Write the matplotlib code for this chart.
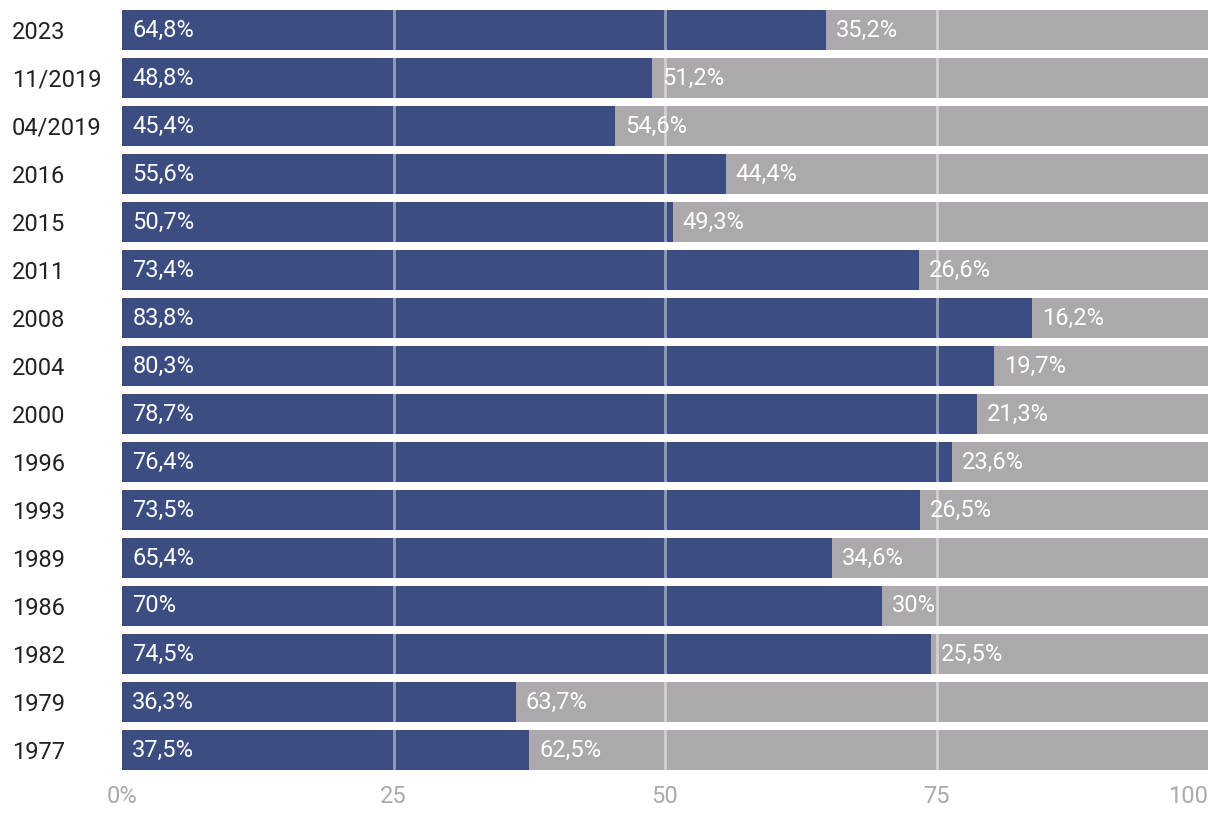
import matplotlib
matplotlib.use("Agg")
import matplotlib.pyplot as plt

plt.rcParams['font.family'] = ['Roboto', 'DejaVu Sans']

categories = ["2023", "11/2019", "04/2019", "2016", "2015", "2011", "2008", "2004",
              "2000", "1996", "1993", "1989", "1986", "1982", "1979", "1977"]
blue_vals = [64.8, 48.8, 45.4, 55.6, 50.7, 73.4, 83.8, 80.3, 78.7, 76.4, 73.5, 65.4, 70, 74.5, 36.3, 37.5]
gray_vals = [35.2, 51.2, 54.6, 44.4, 49.3, 26.6, 16.2, 19.7, 21.3, 23.6, 26.5, 34.6, 30, 25.5, 63.7, 62.5]
blue_labels = ["64,8%", "48,8%", "45,4%", "55,6%", "50,7%", "73,4%", "83,8%", "80,3%",
               "78,7%", "76,4%", "73,5%", "65,4%", "70%", "74,5%", "36,3%", "37,5%"]
gray_labels = ["35,2%", "51,2%", "54,6%", "44,4%", "49,3%", "26,6%", "16,2%", "19,7%",
               "21,3%", "23,6%", "26,5%", "34,6%", "30%", "25,5%", "63,7%", "62,5%"]
xticks = [0, 25, 50, 75, 100]
xtick_labels = ["0%", "25", "50", "75", "100"]

BLUE = "#3c4d82"
GRAY = "#aca8ad"
FS = 17

fig = plt.figure(figsize=(12.2, 8.16), dpi=100)
ax = fig.add_axes([122/1220, 1 - 774/816, (1208 - 122)/1220, 768/816])

y = list(range(len(categories)))
ax.barh(y, blue_vals, height=40/48, color=BLUE, zorder=1)
ax.barh(y, gray_vals, left=blue_vals, height=40/48, color=GRAY, zorder=1)

for xv in [25, 50, 75]:
    ax.axvline(xv, color="white", alpha=0.45, lw=2, zorder=2)

for i in y:
    ax.text(0.95, i, blue_labels[i], color="white", fontsize=FS, va="center", ha="left", zorder=3)
    ax.text(blue_vals[i] + 0.9, i, gray_labels[i], color="white", fontsize=FS, va="center", ha="left", zorder=3)

ax.set_xlim(0, 100)
ax.set_ylim(len(categories) - 0.5, -0.5)

ax.set_yticks(y)
ax.set_yticklabels(categories, fontsize=FS, color="#222222", ha="left")
ax.tick_params(axis="y", length=0, pad=110 * 0.72)

ax.set_xticks(xticks)
ax.set_xticklabels(xtick_labels, fontsize=FS, color="#aaaaaa")
ax.tick_params(axis="x", length=0, pad=8)
labels = ax.get_xticklabels()
labels[-1].set_ha("right")

for s in ax.spines.values():
    s.set_visible(False)

fig.savefig("out.png", dpi=100)
